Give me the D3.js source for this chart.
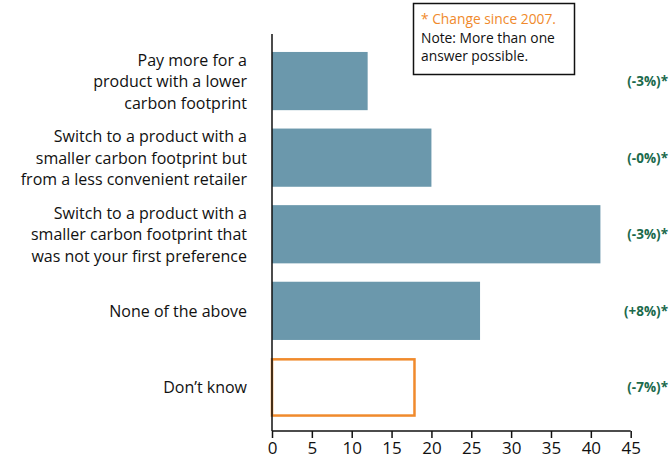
<!DOCTYPE html>
<html><head><meta charset="utf-8">
<script src="https://cdn.jsdelivr.net/npm/d3@7/dist/d3.min.js"></script>
<style>body{margin:0;background:#fff;} svg{display:block;}</style>
</head><body>
<svg id="chart" width="669" height="460"></svg>
<script>
const categories = [
  ["Pay more for a","product with a lower","carbon footprint"],
  ["Switch to a product with a","smaller carbon footprint but","from a less convenient retailer"],
  ["Switch to a product with a","smaller carbon footprint that","was not your first preference"],
  ["None of the above"],
  ["Don\u2019t know"]
];
const values = [12, 20, 41.2, 26.1, 18];
const changes = ["(-3%)*","(-0%)*","(-3%)*","(+8%)*","(-7%)*"];
const tickValues = [0,5,10,15,20,25,30,35,40,45];
const noteLines = ["* Change since 2007.","Note: More than one","answer possible."];

const svg = d3.select("#chart");
const font = "'Open Sans', 'Noto Sans', sans-serif";
const x = d3.scaleLinear().domain([0,45]).range([272,630.7]);
const y = d3.scaleBand().domain(d3.range(categories.length)).range([42,426.5]).paddingInner(0.24).paddingOuter(0.13);

// bars
svg.append("g").selectAll("rect").data(values).join("rect")
  .attr("x", x(0))
  .attr("y", (d,i)=> y(i) + (i===4?1:0))
  .attr("width", (d,i)=> x(d)-x(0) - (i===4?1:0))
  .attr("height", (d,i)=> y.bandwidth() - (i===4?2:0))
  .attr("fill", (d,i)=> i===4 ? "none" : "#6b98ac")
  .attr("stroke", (d,i)=> i===4 ? "#f08a2c" : "none")
  .attr("stroke-width", 2.5);

// category labels
const lab = svg.append("g").attr("font-family", font).attr("font-size", 16).attr("fill","#111").attr("text-anchor","end");
categories.forEach((lines,i)=>{
  const cy = y(i)+y.bandwidth()/2;
  const lh = 21.5;
  const t = lab.append("text").attr("x",247);
  lines.forEach((l,j)=>{
    t.append("tspan").attr("x",247).attr("y", cy + (j-(lines.length-1)/2)*lh + 6).text(l);
  });
});

// change labels
svg.append("g").selectAll("text").data(changes).join("text")
  .attr("x", 668).attr("y",(d,i)=> y(i)+y.bandwidth()/2 + 5)
  .attr("text-anchor","end").attr("font-family",font).attr("font-weight","bold")
  .attr("font-size",13.5).attr("fill","#1b6a4c").text(d=>d);

// x axis
const ax = svg.append("g").attr("transform","translate(0,431)")
  .call(d3.axisBottom(x).tickValues(tickValues).tickSize(7).tickPadding(4).tickFormat(d3.format("d")));
ax.select(".domain").attr("stroke","#111").attr("stroke-width",1.5).attr("d","M272,0H630.7");
ax.selectAll(".tick line").attr("stroke","#111").attr("stroke-width",1.5);
ax.selectAll(".tick text").attr("font-family",font).attr("font-size",17).attr("fill","#111");

// y axis line
svg.append("line").attr("x1",x(0)).attr("x2",x(0)).attr("y1",34).attr("y2",431)
  .attr("stroke","#111").attr("stroke-width",1.5);

// note box
svg.append("rect").attr("x",413.5).attr("y",3.5).attr("width",161).attr("height",71)
  .attr("fill","#fff").attr("stroke","#111").attr("stroke-width",1.5);
const nt = svg.append("g").attr("font-family",font).attr("font-size",13.8);
noteLines.forEach((l,i)=>{
  nt.append("text").attr("x",421).attr("y",24+i*18.5).attr("fill", i===0?"#f08a2c":"#111").text(l);
});
</script>
</body></html>
